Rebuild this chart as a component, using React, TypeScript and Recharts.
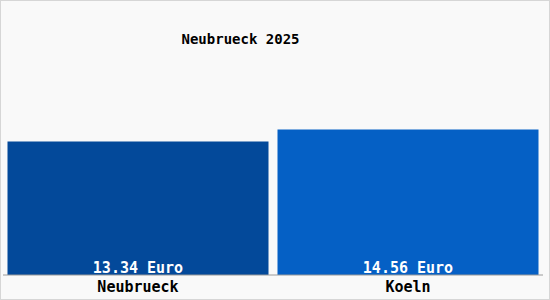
import React from "react";
import { BarChart, Bar, XAxis, YAxis, Cell, LabelList } from "recharts";

const categories = ["Neubrueck", "Koeln"];
const prices = [13.34, 14.56];
const valueLabels = ["13.34 Euro", "14.56 Euro"];
const title = "Neubrueck 2025";

const barColors = ["#03499a", "#0560c5"];

const data = categories.map((name, i) => ({
  name,
  value: prices[i],
  label: valueLabels[i],
}));

const FONT = "'DejaVu Sans Mono', monospace";

export default function App() {
  return (
    <div
      style={{
        position: "absolute",
        left: 0,
        top: 0,
        width: 550,
        height: 300,
        background: "#f9f9f9",
        boxSizing: "border-box",
        border: "1px solid #d6d6d6",
        fontFamily: FONT,
      }}
    >
      <div
        style={{
          position: "absolute",
          left: 0,
          top: 29,
          width: 479,
          textAlign: "center",
          fontSize: 14,
          fontWeight: "bold",
          fontFamily: FONT,
          color: "#000",
          lineHeight: "18px",
        }}
      >
        {title}
      </div>
      <div style={{ position: "absolute", left: -1, top: -1 }}>
        <BarChart
          width={550}
          height={300}
          data={data}
          margin={{ top: 115, right: 7, bottom: 0, left: 3 }}
          barCategoryGap={4.5}
        >
          <YAxis hide domain={[0, 16]} />
          <XAxis
            dataKey="name"
            height={25}
            axisLine={{ stroke: "#9a9a9a" }}
            tickLine={false}
            tickMargin={0}
            tick={{ fill: "#000", fontSize: 15, fontFamily: FONT, fontWeight: "bold" }}
          />
          <Bar dataKey="value" isAnimationActive={false}>
            {data.map((d, i) => (
              <Cell key={d.name} fill={barColors[i]} />
            ))}
            <LabelList
              dataKey="label"
              position="insideBottom"
              offset={2}
              fill="#ffffff"
              style={{ fontSize: 15, fontFamily: FONT, fontWeight: "bold" }}
            />
          </Bar>
        </BarChart>
      </div>
    </div>
  );
}
